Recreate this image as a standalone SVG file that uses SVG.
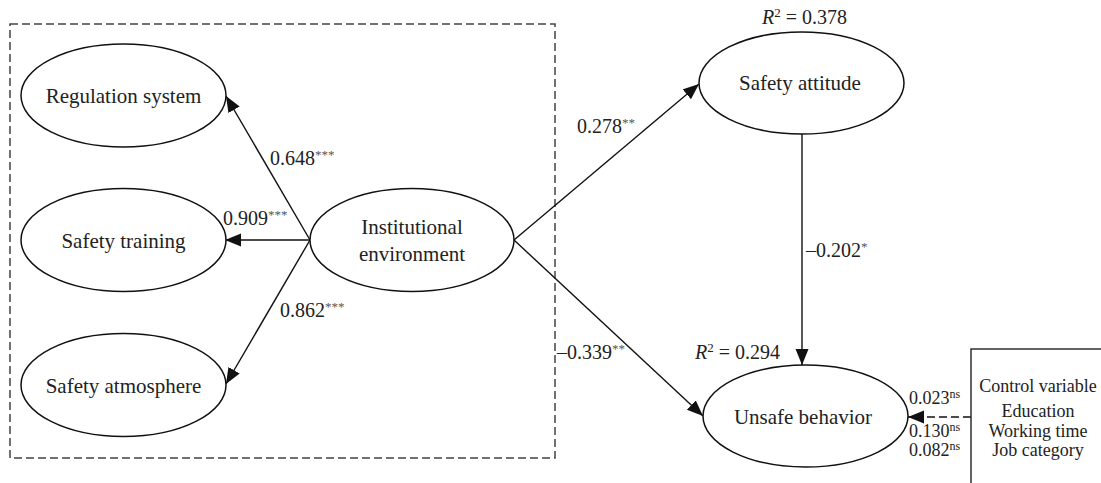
<svg xmlns="http://www.w3.org/2000/svg" width="1101" height="483" viewBox="0 0 1101 483">
<defs>
<marker id="ah" markerUnits="userSpaceOnUse" markerWidth="18" markerHeight="14" refX="16" refY="6.5" orient="auto">
<path d="M0,0 L16,6.5 L0,13 z" fill="#111"/>
</marker>
<style>
.node ellipse{fill:#fff;stroke:#111;stroke-width:1.5}
.lbl{font-family:"Liberation Serif",serif;font-size:21px;fill:#222;text-anchor:middle}
.num{font-family:"Liberation Serif",serif;font-size:20px;fill:#222}
.cn{font-family:"Liberation Serif",serif;font-size:18px;fill:#222}
.sup{font-size:13px;fill:#555}
.ctl{font-family:"Liberation Serif",serif;font-size:18px;fill:#222;text-anchor:middle}
.edge{stroke:#111;stroke-width:1.4;fill:none;marker-end:url(#ah)}
</style>
</defs>
<rect x="10" y="24" width="545" height="434" fill="none" stroke="#444" stroke-width="1.5" stroke-dasharray="8 4"/>
<g id="connectors">
<line class="edge" x1="310" y1="240" x2="226" y2="96"/>
<line class="edge" x1="310" y1="240" x2="225" y2="240"/>
<line class="edge" x1="310" y1="240" x2="226" y2="384"/>
<line class="edge" x1="514" y1="240" x2="699" y2="84"/>
<line class="edge" x1="514" y1="240" x2="703" y2="416"/>
<line class="edge" x1="802" y1="134" x2="802" y2="365"/>
<line class="edge" x1="971" y1="417" x2="908" y2="417" stroke-dasharray="8 4"/>
</g>
<g id="regulation" class="node"><ellipse cx="123.5" cy="95.5" rx="102.5" ry="51.5"/><text class="lbl" x="123.5" y="103">Regulation system</text></g>
<g id="training" class="node"><ellipse cx="123.5" cy="240" rx="102.5" ry="51.5"/><text class="lbl" x="123.5" y="248">Safety training</text></g>
<g id="atmosphere" class="node"><ellipse cx="123.5" cy="385" rx="102.5" ry="51.5"/><text class="lbl" x="123.5" y="393">Safety atmosphere</text></g>
<g id="institutional" class="node"><ellipse cx="412" cy="240" rx="102" ry="51.5"/><text class="lbl" x="412" y="234">Institutional</text><text class="lbl" x="412" y="261">environment</text></g>
<g id="attitude" class="node"><ellipse cx="801.5" cy="83" rx="102.5" ry="51"/><text class="lbl" x="800" y="90">Safety attitude</text></g>
<g id="unsafe" class="node"><ellipse cx="805.5" cy="416" rx="102.5" ry="51"/><text class="lbl" x="803" y="424">Unsafe behavior</text></g>
<g id="control"><rect x="971" y="349" width="150" height="150" fill="#fff" stroke="#222" stroke-width="1.4"/>
<text class="ctl" x="1038" y="392">Control variable</text>
<text class="ctl" x="1038" y="417">Education</text>
<text class="ctl" x="1038" y="437">Working time</text>
<text class="ctl" x="1038" y="456">Job category</text></g>
<g id="labels">
<text class="num" x="270" y="165">0.648<tspan class="sup" dy="-6">***</tspan></text>
<text class="num" x="223" y="225">0.909<tspan class="sup" dy="-6">***</tspan></text>
<text class="num" x="280" y="317">0.862<tspan class="sup" dy="-6">***</tspan></text>
<text class="num" x="577" y="133">0.278<tspan class="sup" dy="-6">**</tspan></text>
<text class="num" x="557" y="359">–0.339<tspan class="sup" dy="-6">**</tspan></text>
<text class="num" x="806" y="257">–0.202<tspan class="sup" dy="-6">*</tspan></text>
<text class="num" x="762" y="24"><tspan font-style="italic">R</tspan><tspan font-size="13" dy="-7">2</tspan><tspan dy="7"> = 0.378</tspan></text>
<text class="num" x="695" y="359"><tspan font-style="italic">R</tspan><tspan font-size="13" dy="-7">2</tspan><tspan dy="7"> = 0.294</tspan></text>
<text class="cn" x="909" y="404">0.023<tspan font-size="12" dy="-6">ns</tspan></text>
<text class="cn" x="909" y="437">0.130<tspan font-size="12" dy="-6">ns</tspan></text>
<text class="cn" x="909" y="456">0.082<tspan font-size="12" dy="-6">ns</tspan></text>
</g>
</svg>
